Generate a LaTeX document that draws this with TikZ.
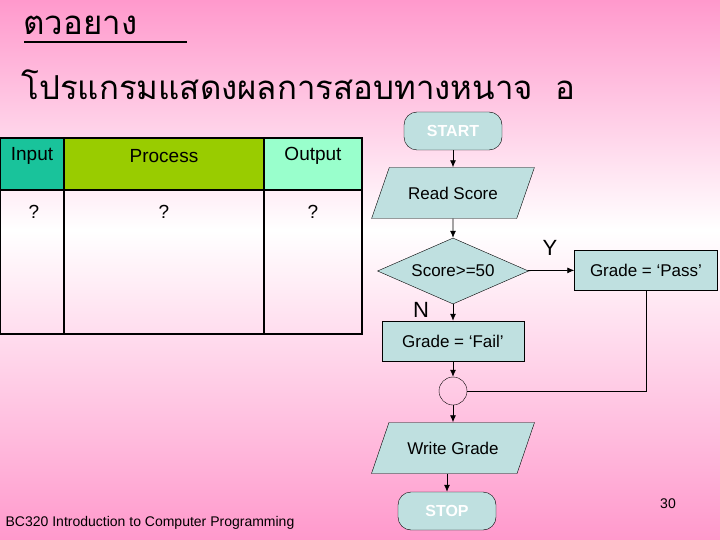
\documentclass[tikz,border=0pt]{standalone}
\usepackage{fontspec}
\setmainfont{Liberation Sans}
\newfontfamily\thaifont[Script=Thai]{Loma}
\usetikzlibrary{shapes.geometric,positioning,arrows.meta}
\definecolor{bgpink}{HTML}{FF99CC}
\definecolor{flowfill}{HTML}{BFE0E0}
\definecolor{inhead}{HTML}{19C39B}
\definecolor{prochead}{HTML}{99CC00}
\definecolor{outhead}{HTML}{99FFCC}
\tikzset{
  term/.style={draw, rounded corners=13pt, fill=flowfill, minimum width=98pt, minimum height=38pt, text=white, font=\bfseries\fontsize{16}{18}\selectfont},
  io/.style={draw, trapezium, trapezium left angle=57, trapezium right angle=123, trapezium stretches=true, fill=flowfill, minimum width=163pt, minimum height=51pt, inner xsep=0pt, font=\fontsize{17}{20}\selectfont},
  decision/.style={draw, diamond, aspect=2.3, fill=flowfill, minimum width=151pt, minimum height=66pt, inner sep=0pt, font=\fontsize{17}{20}\selectfont},
  proc/.style={draw, fill=flowfill, minimum height=40pt, font=\fontsize{17}{20}\selectfont},
  line/.style={draw, thick},
  arrow/.style={line, -{Latex[length=7pt,width=6pt]}}
}
\begin{document}
\begin{tikzpicture}[x=1pt,y=-1pt]
  \useasboundingbox (0,0) rectangle (720,540);
  % background
  \shade[top color=bgpink, bottom color=white] (0,0) rectangle (720,230);
  \shade[top color=white, bottom color=bgpink] (0,230) rectangle (720,540);

  % title
  \node[anchor=west] (title) at (20,25) {\thaifont\fontsize{33}{36}\selectfont ตวอยาง};
  \draw[line width=2pt] (24,42) -- (187,42);
  \node[anchor=west] (subtitle) at (18,85) {\thaifont\fontsize{33}{38}\selectfont โปรแกรมแสดงผลการสอบทางหนาจ\ \ อ};

  % table
  \fill[inhead] (0,138) rectangle (64,190);
  \fill[prochead] (64,138) rectangle (264,190);
  \fill[outhead] (264,138) rectangle (362,190);
  \draw[very thick] (0,138) rectangle (362,334);
  \draw[very thick] (0,190) -- (362,190);
  \draw[very thick] (64,138) -- (64,334);
  \draw[very thick] (264,138) -- (264,334);
  \begin{scope}[font=\fontsize{19}{22}\selectfont]
    \node (hin) at (32,156) {Input};
    \node (hproc) at (164,156) {Process};
    \node (hout) at (313,156) {Output};
    \node (qin) at (34,212) {?};
    \node (qproc) at (164,212) {?};
    \node (qout) at (313,212) {?};
  \end{scope}

  % flowchart
  \node[term] (start) at (453,131) {START};
  \node[io] (read) at (453,193) {Read Score};
  \node[decision] (test) at (453,271) {Score>=50};
  \node[proc, minimum width=143pt] (pass) at (646,270) {Grade = ‘Pass’};
  \node[proc, minimum width=142pt] (fail) at (453,341) {Grade = ‘Fail’};
  \node[draw, circle, minimum size=28pt, inner sep=0pt] (join) at (453,391) {};
  \node[io] (write) at (453,448) {Write Grade};
  \node[term] (stop) at (447,511) {STOP};
  \node (ylab) at (550,248) {\fontsize{22}{24}\selectfont Y};
  \node (nlab) at (421,310) {\fontsize{22}{24}\selectfont N};

  \draw[arrow] (start) -- (read);
  \draw[arrow] (read) -- (test);
  \draw[arrow] (test) -- (pass);
  \draw[arrow] (test) -- (fail);
  \draw[arrow] (fail) -- (join);
  \draw[line] (pass.south) |- (join.east);
  \draw[arrow] (join) -- (write);
  \draw[arrow] (write.south -| stop.north) -- (stop);

  % footer
  \node (footer) at (150,523) {\fontsize{14}{16}\selectfont BC320 Introduction to Computer Programming};
  \node (pagenum) at (668,504) {\fontsize{14}{16}\selectfont 30};
\end{tikzpicture}
\end{document}
